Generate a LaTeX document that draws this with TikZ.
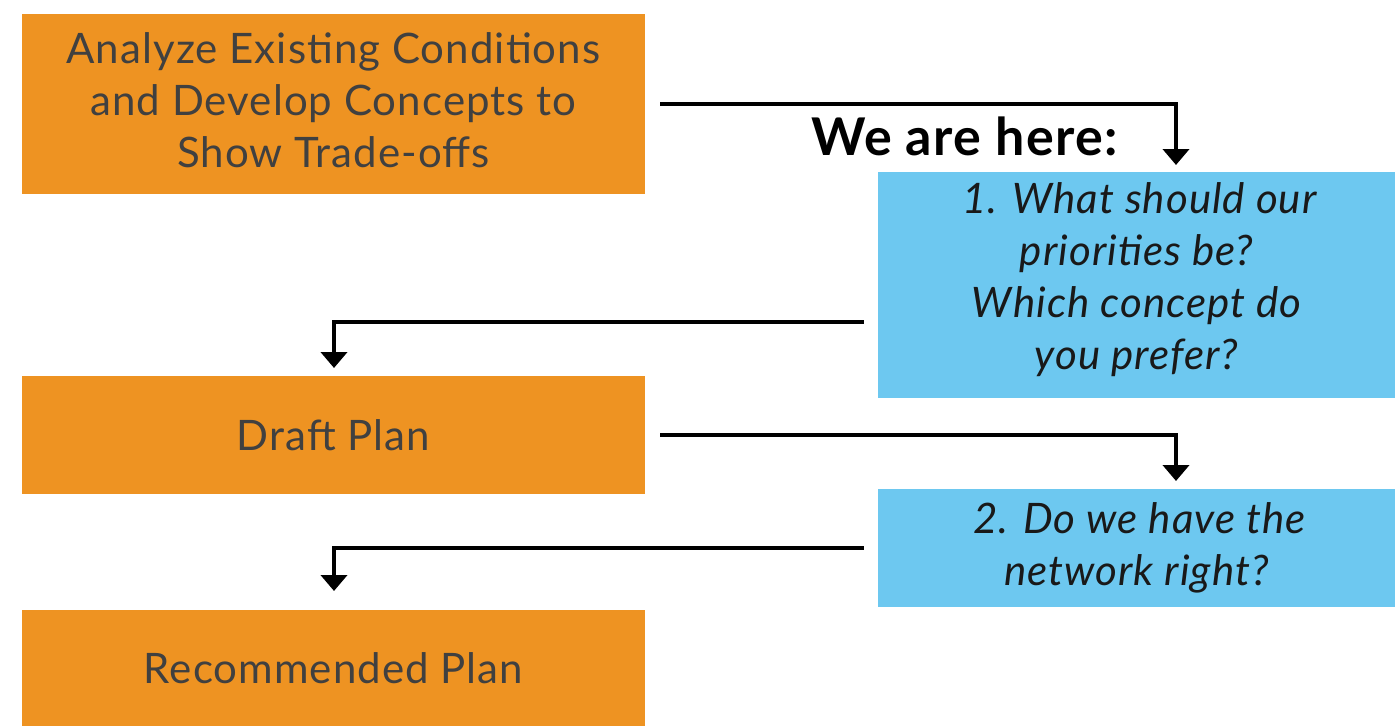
\documentclass[tikz,border=0pt]{standalone}
\usepackage{xcolor}
\usepackage{fontspec}
\setmainfont{Lato}[LetterSpace=2.5]
\usepackage{tikz}
\usetikzlibrary{arrows.meta}
\definecolor{stepor}{HTML}{EE9322}
\definecolor{stepbl}{HTML}{6DC8F0}
\definecolor{steptx}{HTML}{404040}

\begin{document}
\begin{tikzpicture}[x=1pt,y=-1pt,
  orangebox/.style={fill=stepor,inner sep=0pt,align=center,text=steptx,font=\fontsize{42}{52}\selectfont},
  bluebox/.style={fill=stepbl,inner sep=0pt,align=center,text=black!90,font=\fontsize{42}{52}\selectfont\itshape},
  flow/.style={line width=4pt,-{Triangle[width=26pt,length=16pt]}}]
\useasboundingbox (0,0) rectangle (1395,726);
% steps of the process
\node[orangebox,minimum width=623,minimum height=180](analyze)at(333.5,104){Analyze Existing Conditions\\and Develop Concepts to\\Show Trade-offs\rule[-8pt]{0pt}{0pt}};
\node[orangebox,minimum width=623,minimum height=118](draft)at(333.5,435){Draft Plan};
\node[orangebox,minimum width=623,minimum height=116](recommended)at(333.5,668){Recommended Plan};
% questions for the public
\node[bluebox,minimum width=517,minimum height=226](prio)at(1136.5,285){\hspace*{6pt}1. What should our\\priorities be?\\Which concept do\\you prefer?\rule[-17pt]{0pt}{0pt}};
\node[bluebox,minimum width=517,minimum height=118](network)at(1136.5,548){\hspace*{6pt}2. Do we have the\\network right?};
\node[font=\fontsize{52}{60}\selectfont\bfseries,anchor=base east](here)at(1121,155){We are here:};
% connectors
\coordinate(c1)at(1176,165);
\coordinate(c2)at(334,368);
\coordinate(c3)at(1176,481);
\coordinate(c4)at(334,591);
\draw[flow]([xshift=15pt]analyze.east)-|(c1);
\draw[flow]([shift={(-14pt,-37pt)}]prio.west)-|(c2);
\draw[flow]([xshift=15pt]draft.east)-|(c3);
\draw[flow]([xshift=-14pt]network.west)-|(c4);
\end{tikzpicture}
\end{document}
